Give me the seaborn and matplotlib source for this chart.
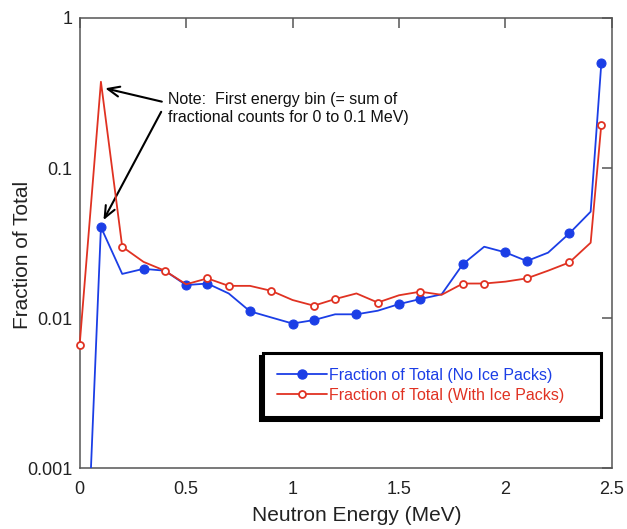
import matplotlib
matplotlib.use("Agg")
import matplotlib.pyplot as plt
from matplotlib.lines import Line2D
import numpy as np
import pandas as pd
import seaborn as sns

# Neutron energy bins (MeV); the first bin holds the summed counts for 0-0.1 MeV
energy = [0.0, 0.1, 0.2, 0.3, 0.4, 0.5, 0.6, 0.7, 0.8, 0.9, 1.0, 1.1, 1.2,
          1.3, 1.4, 1.5, 1.6, 1.7, 1.8, 1.9, 2.0, 2.1, 2.2, 2.3, 2.4, 2.45]

frac_no_ice = [1.5e-5, 0.0404, 0.0197, 0.0213, 0.0207, 0.0166, 0.0170, 0.0146,
               0.0111, 0.0101, 0.0092, 0.0097, 0.0106, 0.0106, 0.0112, 0.0124,
               0.0134, 0.0144, 0.0229, 0.0299, 0.0274, 0.0240, 0.0273, 0.0367,
               0.0512, 0.499]

frac_with_ice = [0.0066, 0.376, 0.0299, 0.0237, 0.0207, 0.0168, 0.0184, 0.0164,
                 0.0164, 0.0152, 0.0132, 0.0121, 0.0134, 0.0146, 0.0127, 0.0142,
                 0.0150, 0.0143, 0.0170, 0.0170, 0.0175, 0.0184, 0.0207, 0.0235,
                 0.0318, 0.195]

# points that carry a marker symbol on each curve
marks_no_ice = [1, 3, 5, 6, 8, 10, 11, 13, 15, 16, 18, 20, 21, 23, 25]
marks_with_ice = [0, 2, 4, 6, 7, 9, 11, 12, 14, 16, 18, 19, 21, 23, 25]

series_labels = ["Fraction of Total (No Ice Packs)",
                 "Fraction of Total (With Ice Packs)"]
x_ticks = [0, 0.5, 1, 1.5, 2, 2.5]
x_tick_labels = ["0", "0.5", "1", "1.5", "2", "2.5"]
y_ticks = [0.001, 0.01, 0.1, 1]
y_tick_labels = ["0.001", "0.01", "0.1", "1"]

BLUE = "#1b3ee6"
RED = "#e03222"
AXIS_GREY = "#555555"

sns.set_theme(style="white")
plt.rcParams["font.family"] = ["Liberation Sans", "DejaVu Sans"]

df = pd.DataFrame({"energy": energy,
                   "no_ice": frac_no_ice,
                   "with_ice": frac_with_ice})

fig = plt.figure(figsize=(6.27, 5.29), dpi=100)
ax = fig.add_axes([0.127, 0.115, 0.849, 0.851])
ax.set_yscale("log")

sns.lineplot(data=df, x="energy", y="no_ice", ax=ax, color=BLUE, lw=1.3,
             marker="o", markersize=6.5, markerfacecolor=BLUE,
             markeredgecolor=BLUE, markevery=marks_no_ice,
             errorbar=None, sort=False, zorder=3)
sns.lineplot(data=df, x="energy", y="with_ice", ax=ax, color=RED, lw=1.3,
             marker="o", markersize=5, markerfacecolor="white",
             markeredgecolor=RED, markeredgewidth=1.3,
             markevery=marks_with_ice, errorbar=None, sort=False,
             clip_on=False, zorder=4)

ax.set_xlim(0, 2.5)
ax.set_ylim(0.001, 1)
ax.set_xticks(x_ticks)
ax.set_xticklabels(x_tick_labels)
ax.set_yticks(y_ticks)
ax.set_yticklabels(y_tick_labels)
ax.yaxis.set_minor_locator(matplotlib.ticker.NullLocator())
ax.xaxis.set_minor_locator(matplotlib.ticker.NullLocator())

ax.tick_params(axis="both", which="major", direction="in", length=7,
               width=1.1, color=AXIS_GREY, labelsize=13, labelcolor="#222222",
               top=True, right=True)
ax.tick_params(axis="x", pad=9)
ax.tick_params(axis="y", pad=5)
for side in ax.spines.values():
    side.set_color(AXIS_GREY)
    side.set_linewidth(1.1)

ax.set_xlabel("Neutron Energy (MeV)", fontsize=15, color="#222222")
ax.set_ylabel("Fraction of Total", fontsize=15, color="#222222")
ax.xaxis.set_label_coords(0.52, -0.083)
ax.yaxis.set_label_coords(-0.09, 0.473)

# note pointing at the first energy bin of both curves
ax.text(0.415, 0.25,
        "Note:  First energy bin (= sum of\nfractional counts for 0 to 0.1 MeV)",
        fontsize=11.5, color="#111111", ha="left", va="center",
        linespacing=1.25)
arrow_style = dict(arrowstyle="->,head_length=0.7,head_width=0.3",
                   lw=1.5, color="black", shrinkA=0, shrinkB=0)
ax.annotate("", xy=(0.12, 0.34), xytext=(0.386, 0.277),
            arrowprops=arrow_style)
ax.annotate("", xy=(0.112, 0.045), xytext=(0.383, 0.237),
            arrowprops=arrow_style)

handles = [
    Line2D([], [], color=BLUE, lw=1.3, marker="o", markersize=6.5,
           markerfacecolor=BLUE, markeredgecolor=BLUE),
    Line2D([], [], color=RED, lw=1.3, marker="o", markersize=5,
           markerfacecolor="white", markeredgecolor=RED, markeredgewidth=1.3),
]
leg = ax.legend(handles, series_labels, loc="lower left",
                bbox_to_anchor=(0.344, 0.113, 0.635, 0.142), mode="expand",
                borderaxespad=0, fontsize=11.5, handlelength=3.1,
                handletextpad=0.1, labelspacing=0.3, borderpad=0.92,
                frameon=True, fancybox=False, framealpha=1,
                shadow={"ox": -2, "oy": -2, "color": "black", "alpha": 1})
leg.get_frame().set_edgecolor("black")
leg.get_frame().set_linewidth(2.2)
for txt, col in zip(leg.get_texts(), [BLUE, RED]):
    txt.set_color(col)

fig.savefig("out.png", dpi=100, facecolor="white")
